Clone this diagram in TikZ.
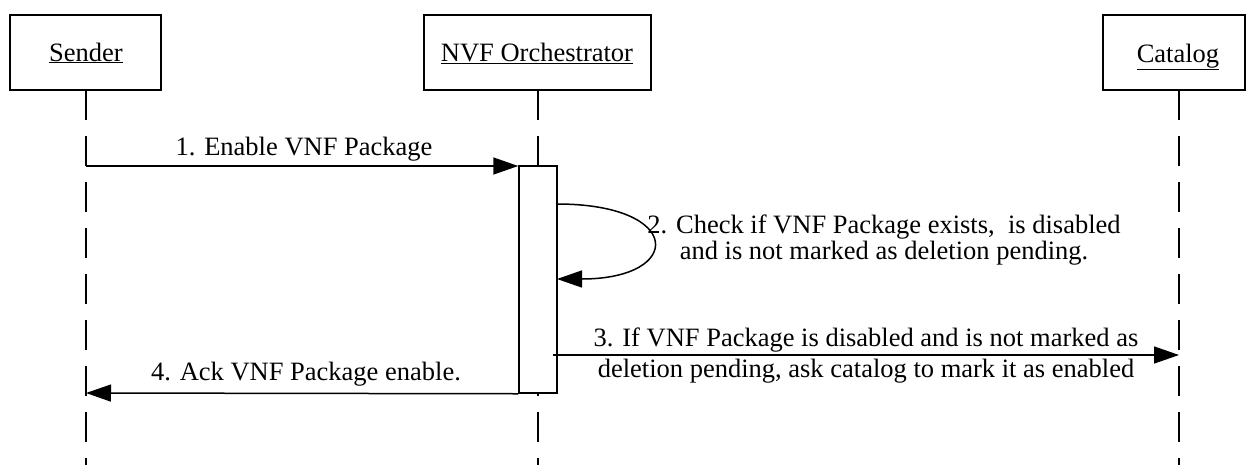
\documentclass[tikz,border=0pt]{standalone}
\usepackage{fontspec}
\setmainfont{Liberation Serif}
\usetikzlibrary{arrows.meta}
\begin{document}
\begin{tikzpicture}[x=1pt,y=1pt,
  every node/.style={font=\fontsize{26.5}{30}\selectfont},
  actor/.style={draw,line width=1.5pt,minimum height=75pt,inner sep=0pt},
  lifeline/.style={line width=1.5pt,dash pattern=on 30pt off 16pt},
  actbox/.style={draw,fill=white,line width=1.5pt,minimum width=38pt,minimum height=227pt,inner sep=0pt},
  msg/.style={line width=1.5pt,-{Triangle[length=25pt,width=17pt]}},
  lbl/.style={inner sep=0pt,anchor=base,align=center}]
\useasboundingbox (0,0) rectangle (1246,-464);
% actors
\node[actor,minimum width=151pt] (sender) at (85.5,-52.5) {};
\node[actor,minimum width=227pt] (nfvo) at (537.5,-52.5) {};
\node[actor,minimum width=142pt] (catalog) at (1174,-52.5) {};
\node[lbl] (tsender) at (86,-61) {\underline{Sender}};
\node[lbl] (tnfvo) at (537,-61) {\underline{NVF Orchestrator}};
\node[lbl] (tcatalog) at (1178,-62) {\underline{Catalog}};
% lifelines
\coordinate (sTop) at (86,-90);   \coordinate (sBot) at (86,-470);
\coordinate (nTop) at (538,-90);  \coordinate (nBot) at (538,-470);
\coordinate (cTop) at (1179,-90); \coordinate (cBot) at (1179,-470);
\draw[lifeline] (sTop) -- (sBot);
\draw[lifeline] (nTop) -- (nBot);
\draw[lifeline] (cTop) -- (cBot);
% activation
\node[actbox] (act) at (538,-279.5) {};
% message points
\coordinate (m1s) at (86,-166);
\coordinate (m2s) at (557,-204);
\coordinate (m2e) at (557,-279);
\coordinate (m3s) at (553,-355);
\coordinate (m3e) at (1179,-355);
\coordinate (m4e) at (86,-393);
% messages
\draw[msg] (m1s) -- (m1s -| act.west);
\draw[msg] (m2s) .. controls (684,-204) and (684,-279) .. (m2e);
\draw[msg] (m3s) -- (m3e);
\draw[msg] (act.south west) -- (m4e);
% labels
\node[lbl] (l1) at (304,-155) {1. Enable VNF Package};
\node[lbl] (l2a) at (884,-233) {2. Check if VNF Package exists,\ \ is disabled};
\node[lbl] (l2b) at (884,-259) {and is not marked as deletion pending.};
\node[lbl] (l3a) at (866,-346) {3. If VNF Package is disabled and is not marked as};
\node[lbl] (l3b) at (866,-377) {deletion pending, ask catalog to mark it as enabled};
\node[lbl] (l4) at (306,-380) {4. Ack VNF Package enable.};
\end{tikzpicture}
\end{document}
